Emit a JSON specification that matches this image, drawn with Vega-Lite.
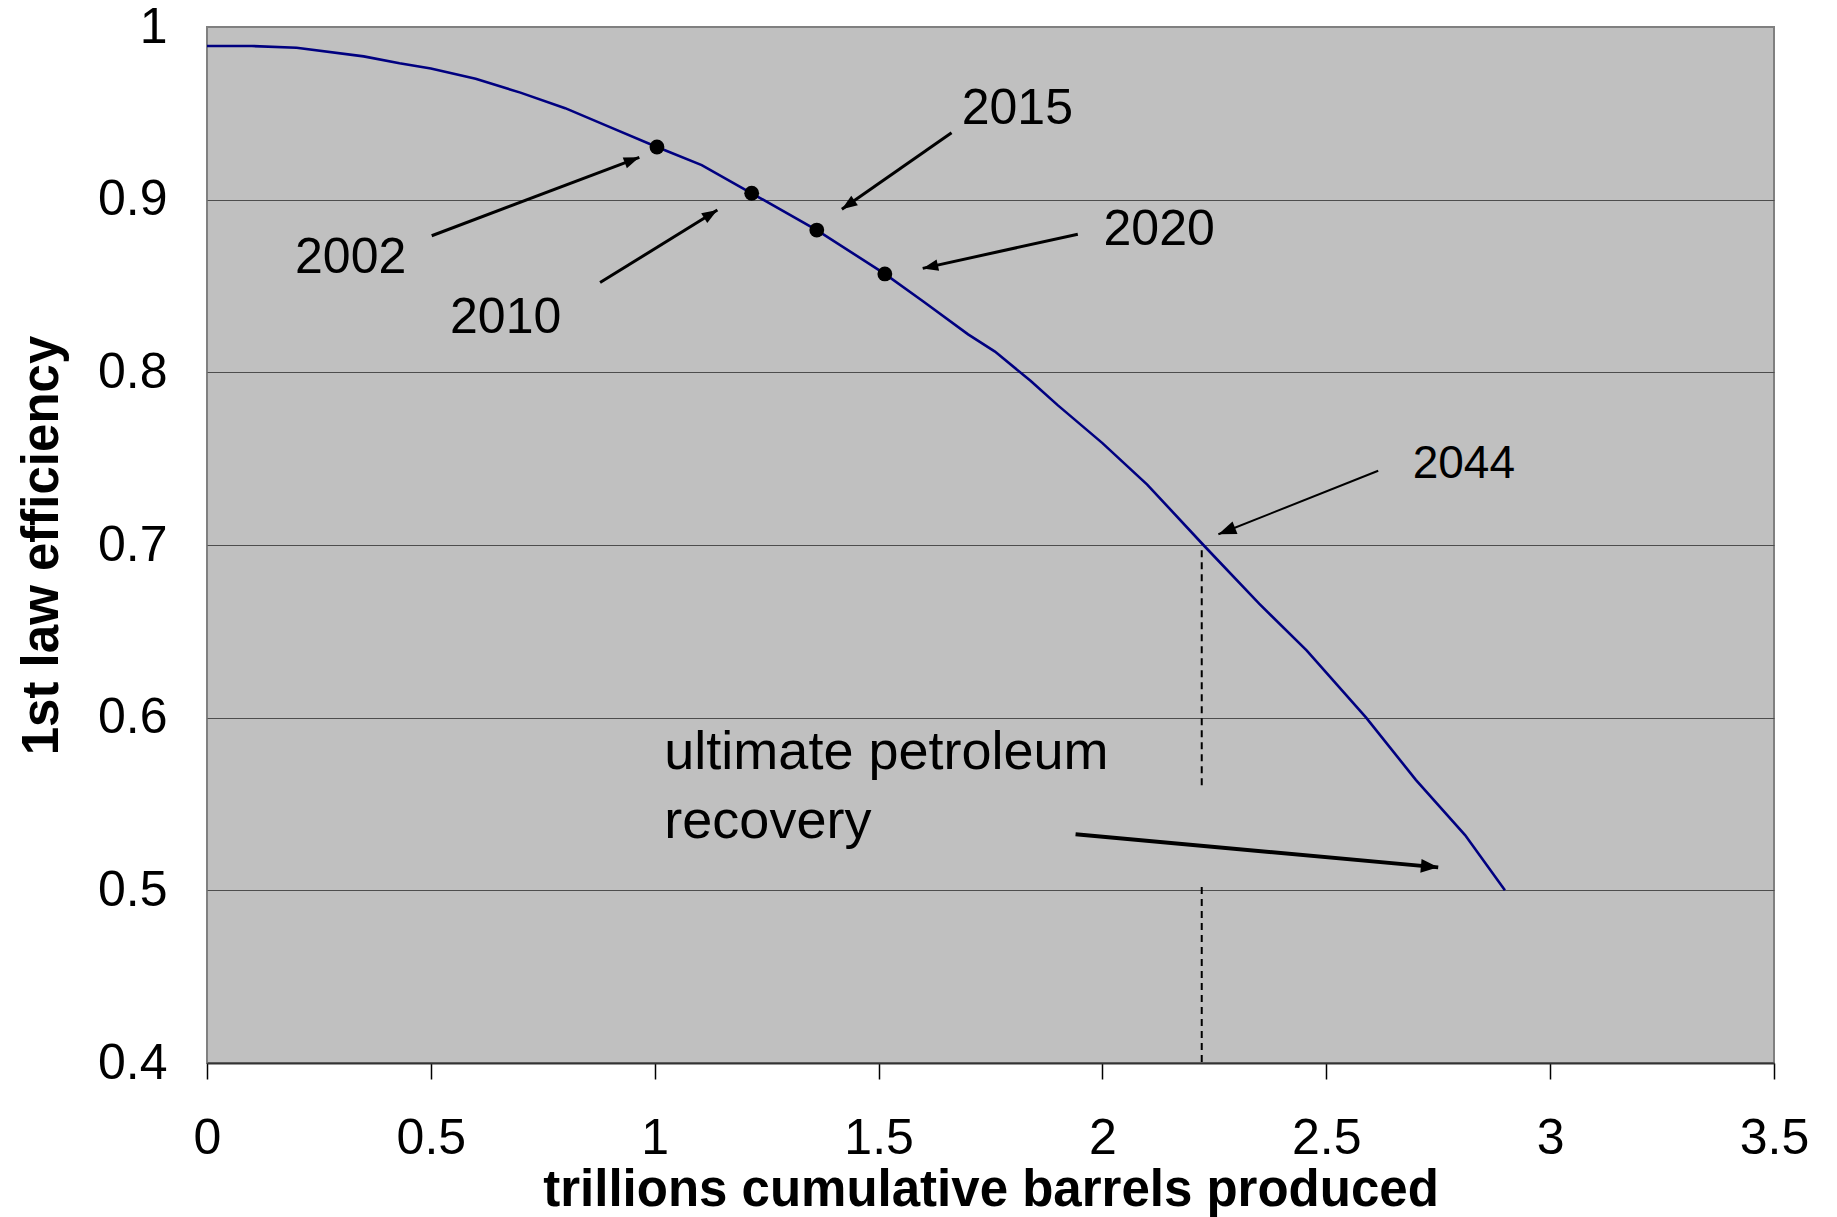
{
  "$schema": "https://vega.github.io/schema/vega-lite/v6.json",
  "width": 1567,
  "height": 1036,
  "autosize": {"type": "none"},
  "padding": {"left": 207, "top": 27, "right": 63, "bottom": 154},
  "background": "white",
  "config": {
    "view": {"fill": "#c0c0c0", "stroke": "#808080", "strokeWidth": 2},
    "font": "Liberation Sans"
  },
  "datasets": {
    "curve": [
      {"x": 0, "y": 0.989}, {"x": 0.1, "y": 0.989}, {"x": 0.2, "y": 0.988},
      {"x": 0.35, "y": 0.983}, {"x": 0.43, "y": 0.979}, {"x": 0.5, "y": 0.976},
      {"x": 0.6, "y": 0.970}, {"x": 0.7, "y": 0.962}, {"x": 0.8, "y": 0.953},
      {"x": 0.9, "y": 0.942}, {"x": 1.005, "y": 0.9305}, {"x": 1.105, "y": 0.920},
      {"x": 1.2166, "y": 0.9037}, {"x": 1.362, "y": 0.8824}, {"x": 1.514, "y": 0.857},
      {"x": 1.6, "y": 0.841}, {"x": 1.7, "y": 0.822}, {"x": 1.76, "y": 0.812},
      {"x": 1.84, "y": 0.795}, {"x": 1.9, "y": 0.781}, {"x": 2.0, "y": 0.759},
      {"x": 2.1, "y": 0.735}, {"x": 2.2255, "y": 0.700}, {"x": 2.35, "y": 0.666},
      {"x": 2.456, "y": 0.639}, {"x": 2.589, "y": 0.600}, {"x": 2.7, "y": 0.564},
      {"x": 2.81, "y": 0.532}, {"x": 2.899, "y": 0.500}
    ],
    "dash": [
      {"x": 2.2218, "y": 0.697, "y2": 0.558},
      {"x": 2.2218, "y": 0.502, "y2": 0.4}
    ],
    "dots": [
      {"x": 1.005, "y": 0.9305}, {"x": 1.2166, "y": 0.9037},
      {"x": 1.362, "y": 0.8824}, {"x": 1.514, "y": 0.857}
    ],
    "arrows": [
      {"label": "2002", "x": 0.9656, "y": 0.9245, "x2": 0.5019, "y2": 0.8791},
      {"label": "2010", "x": 1.140, "y": 0.894, "x2": 0.878, "y2": 0.852},
      {"label": "2015", "x": 1.418, "y": 0.8944, "x2": 1.663, "y2": 0.9388},
      {"label": "2020", "x": 1.5986, "y": 0.8602, "x2": 1.945, "y2": 0.880},
      {"label": "2044", "x": 2.259, "y": 0.7062, "x2": 2.616, "y2": 0.743},
      {"label": "recovery", "x": 2.750, "y": 0.5133, "x2": 1.940, "y2": 0.5325}
    ],
    "labels": [
      {"text": "2002", "x": 0.1966, "y": 0.8577},
      {"text": "2010", "x": 0.5428, "y": 0.8230},
      {"text": "2015", "x": 1.6857, "y": 0.9438},
      {"text": "2020", "x": 2.0025, "y": 0.8737},
      {"text": "2044", "x": 2.6929, "y": 0.7386},
      {"text": "ultimate petroleum", "x": 1.0215, "y": 0.5701},
      {"text": "recovery", "x": 1.0215, "y": 0.5301}
    ]
  },
  "encoding": {
    "x": {
      "field": "x", "type": "quantitative",
      "scale": {"domain": [0, 3.5], "nice": false, "zero": false},
      "axis": {
        "title": "trillions cumulative barrels produced",
        "values": [0, 0.5, 1, 1.5, 2, 2.5, 3, 3.5],
        "format": "~g", "grid": false,
        "domain": true, "domainColor": "#333333", "domainWidth": 2,
        "ticks": true, "tickColor": "#000000", "tickSize": 16, "tickWidth": 1.5,
        "labelFontSize": 50, "labelColor": "#000000", "labelPadding": 34,
        "labelFont": "Liberation Sans", "labelFlush": false, "labelOverlap": false,
        "titleFont": "Liberation Sans", "titleFontSize": 51, "titleFontWeight": "bold",
        "titleColor": "#000000", "titlePadding": 2
      }
    },
    "y": {
      "field": "y", "type": "quantitative",
      "scale": {"domain": [0.4, 1], "nice": false, "zero": false},
      "axis": {
        "title": "1st law efficiency",
        "values": [0.4, 0.5, 0.6, 0.7, 0.8, 0.9, 1],
        "format": "~g",
        "grid": true, "gridColor": "#4d4d4d", "gridWidth": 1.2,
        "gridOpacity": {"condition": {"test": "datum.value < 0.45 || datum.value > 0.95", "value": 0}, "value": 1},
        "domain": false, "ticks": false, "tickSize": 0,
        "labelFontSize": 50, "labelColor": "#000000", "labelPadding": 40,
        "labelFont": "Liberation Sans", "labelFlush": false, "labelOverlap": false,
        "titleFont": "Liberation Sans", "titleFontSize": 51, "titleFontWeight": "bold",
        "titleColor": "#000000", "titlePadding": 29
      }
    }
  },
  "layer": [
    {
      "data": {"name": "dash"},
      "mark": {"type": "rule", "color": "#000000", "strokeWidth": 2, "strokeDash": [7, 5]},
      "encoding": {"y2": {"field": "y2"}}
    },
    {
      "data": {"name": "curve"},
      "mark": {"type": "line", "color": "#000080", "strokeWidth": 2.6}
    },
    {
      "data": {"name": "dots"},
      "mark": {"type": "point", "shape": "circle", "filled": true, "color": "#000000", "size": 220, "opacity": 1}
    },
    {
      "data": {"name": "arrows"},
      "transform": [{"filter": "datum.label != '2044' && datum.label != 'recovery'"}],
      "mark": {"type": "rule", "color": "#000000", "strokeWidth": 3},
      "encoding": {"x2": {"field": "x2"}, "y2": {"field": "y2"}}
    },
    {
      "data": {"name": "arrows"},
      "transform": [{"filter": "datum.label == '2044'"}],
      "mark": {"type": "rule", "color": "#000000", "strokeWidth": 2},
      "encoding": {"x2": {"field": "x2"}, "y2": {"field": "y2"}}
    },
    {
      "data": {"name": "arrows"},
      "transform": [{"filter": "datum.label == 'recovery'"}],
      "mark": {"type": "rule", "color": "#000000", "strokeWidth": 4},
      "encoding": {"x2": {"field": "x2"}, "y2": {"field": "y2"}}
    },
    {
      "data": {"name": "arrows"},
      "transform": [{"filter": "datum.label == '2002'"}],
      "mark": {"type": "point", "shape": "M0,0L-2,-0.75L-2,0.75Z", "filled": true, "color": "#000000", "opacity": 1, "strokeWidth": 0, "size": 240, "angle": -20.7}
    },
    {
      "data": {"name": "arrows"},
      "transform": [{"filter": "datum.label == '2010'"}],
      "mark": {"type": "point", "shape": "M0,0L-2,-0.75L-2,0.75Z", "filled": true, "color": "#000000", "opacity": 1, "strokeWidth": 0, "size": 240, "angle": -31.7}
    },
    {
      "data": {"name": "arrows"},
      "transform": [{"filter": "datum.label == '2015'"}],
      "mark": {"type": "point", "shape": "M0,0L-2,-0.75L-2,0.75Z", "filled": true, "color": "#000000", "opacity": 1, "strokeWidth": 0, "size": 240, "angle": 145.1}
    },
    {
      "data": {"name": "arrows"},
      "transform": [{"filter": "datum.label == '2020'"}],
      "mark": {"type": "point", "shape": "M0,0L-2,-0.75L-2,0.75Z", "filled": true, "color": "#000000", "opacity": 1, "strokeWidth": 0, "size": 240, "angle": 167.6}
    },
    {
      "data": {"name": "arrows"},
      "transform": [{"filter": "datum.label == '2044'"}],
      "mark": {"type": "point", "shape": "M0,0L-2,-0.75L-2,0.75Z", "filled": true, "color": "#000000", "opacity": 1, "strokeWidth": 0, "size": 320, "angle": 158.3}
    },
    {
      "data": {"name": "arrows"},
      "transform": [{"filter": "datum.label == 'recovery'"}],
      "mark": {"type": "point", "shape": "M0,0L-2,-0.8L-2,0.8Z", "filled": true, "color": "#000000", "opacity": 1, "strokeWidth": 0, "size": 300, "angle": 5.2}
    },
    {
      "data": {"name": "labels"},
      "transform": [{"filter": "datum.text == '2002' || datum.text == '2010' || datum.text == '2015' || datum.text == '2020'"}],
      "mark": {"type": "text", "align": "left", "baseline": "alphabetic", "color": "#000000", "font": "Liberation Sans", "fontSize": 50},
      "encoding": {"text": {"field": "text"}}
    },
    {
      "data": {"name": "labels"},
      "transform": [{"filter": "datum.text == '2044'"}],
      "mark": {"type": "text", "align": "left", "baseline": "alphabetic", "color": "#000000", "font": "Liberation Sans", "fontSize": 46},
      "encoding": {"text": {"field": "text"}}
    },
    {
      "data": {"name": "labels"},
      "transform": [{"filter": "datum.text == 'ultimate petroleum' || datum.text == 'recovery'"}],
      "mark": {"type": "text", "align": "left", "baseline": "alphabetic", "color": "#000000", "font": "Liberation Sans", "fontSize": 54},
      "encoding": {"text": {"field": "text"}}
    }
  ]
}
